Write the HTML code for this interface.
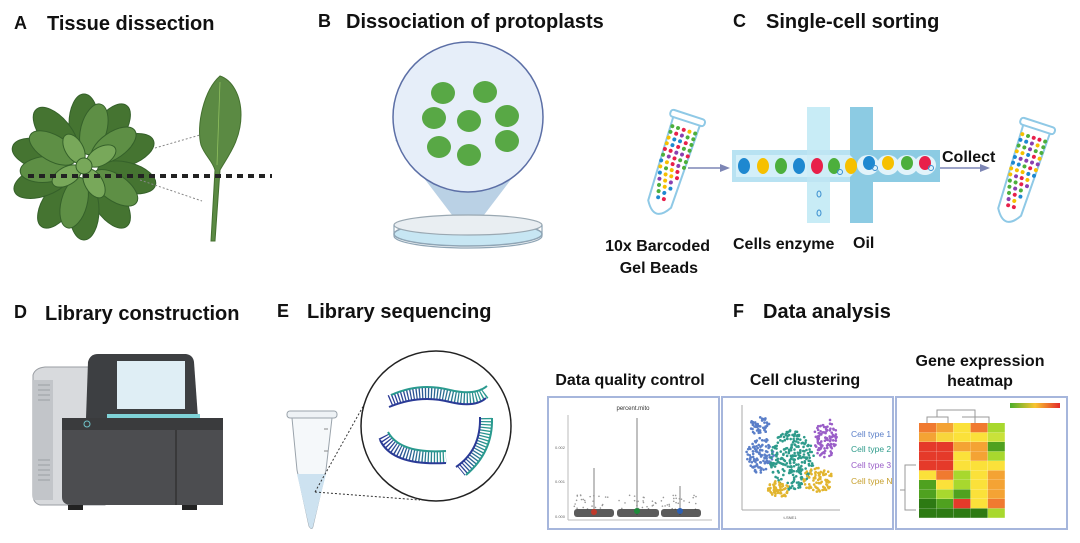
<!DOCTYPE html>
<html><head><meta charset="utf-8"><style>
body{margin:0;background:#fff}
svg{display:block}
text{font-family:"Liberation Sans",Arial,sans-serif}
.t{font-weight:bold;font-size:20px;fill:#111}
.l{font-weight:bold;font-size:16px;fill:#111}
</style></head><body>
<svg id="s" width="1080" height="543" viewBox="0 0 1080 543" xmlns="http://www.w3.org/2000/svg">
<text x="14" y="29" class="t" style="font-size:18px">A</text><text x="47" y="30" class="t">Tissue dissection</text>
<text x="318" y="27" class="t" style="font-size:18px">B</text><text x="346" y="28" class="t">Dissociation of protoplasts</text>
<text x="733" y="27" class="t" style="font-size:18px">C</text><text x="766" y="28" class="t">Single-cell sorting</text>
<text x="14" y="318" class="t" style="font-size:18px">D</text><text x="45" y="320" class="t">Library construction</text>
<text x="277" y="317" class="t" style="font-size:18px">E</text><text x="307" y="318" class="t">Library sequencing</text>
<text x="733" y="317" class="t" style="font-size:18px">F</text><text x="763" y="318" class="t">Data analysis</text>

<g fill="#457431" stroke="#35612a" stroke-width="1">
<g transform="translate(84,166)">
<ellipse rx="15" ry="30" transform="rotate(0) translate(0,-42)"/>
<ellipse rx="15" ry="30" transform="rotate(35) translate(0,-44)"/>
<ellipse rx="15" ry="30" transform="rotate(70) translate(0,-44)"/>
<ellipse rx="15" ry="30" transform="rotate(105) translate(0,-44)"/>
<ellipse rx="15" ry="30" transform="rotate(145) translate(0,-44)"/>
<ellipse rx="15" ry="30" transform="rotate(180) translate(0,-44)"/>
<ellipse rx="15" ry="30" transform="rotate(215) translate(0,-44)"/>
<ellipse rx="15" ry="30" transform="rotate(250) translate(0,-44)"/>
<ellipse rx="15" ry="30" transform="rotate(285) translate(0,-44)"/>
<ellipse rx="15" ry="30" transform="rotate(320) translate(0,-44)"/>
<g fill="#5e8f45"><ellipse rx="13" ry="26" transform="rotate(15) translate(0,-38)"/>
<ellipse rx="13" ry="26" transform="rotate(55) translate(0,-36)"/>
<ellipse rx="13" ry="26" transform="rotate(125) translate(0,-38)"/>
<ellipse rx="13" ry="26" transform="rotate(195) translate(0,-38)"/>
<ellipse rx="13" ry="26" transform="rotate(265) translate(0,-38)"/>
<ellipse rx="13" ry="26" transform="rotate(300) translate(0,-36)"/></g>
<g fill="#78a85a"><ellipse rx="9" ry="16" transform="rotate(60) translate(0,-20)"/>
<ellipse rx="9" ry="16" transform="rotate(150) translate(0,-20)"/>
<ellipse rx="9" ry="16" transform="rotate(240) translate(0,-20)"/>
<ellipse rx="9" ry="16" transform="rotate(330) translate(0,-20)"/>
<circle r="8"/></g>
</g></g>
<path d="M220 76 C204 90 196 125 201 145 C205 156 212 160 215 170 L211 241 L215 241 L220 170 C228 156 241 140 241 115 C241 95 232 80 220 76Z" fill="#5b8a43" stroke="#44702f"/>
<line x1="220" y1="82" x2="217" y2="165" stroke="#8fbf5f" stroke-width="0.8"/>
<line x1="155" y1="148" x2="200" y2="135" stroke="#888" stroke-dasharray="2,2"/>
<line x1="140" y1="180" x2="202" y2="201" stroke="#888" stroke-dasharray="2,2"/>
<line x1="28" y1="176" x2="272" y2="176" stroke="#222" stroke-width="4" stroke-dasharray="6,5"/>

<path d="M395 140 L468 236 L541 140Z" fill="#a9c5de" opacity="0.8"/>
<ellipse cx="468" cy="234" rx="74" ry="12" fill="#c7e6f3" stroke="#8fa5b5" stroke-width="1.5"/>
<ellipse cx="468" cy="225" rx="74" ry="10" fill="#e9eef2" stroke="#9aa8b2" stroke-width="1.2"/>
<path d="M394 225 L394 236 A74 12 0 0 0 542 236 L542 225" fill="none" stroke="#8fa5b5" stroke-width="1.2"/>
<circle cx="468" cy="117" r="75" fill="#e6eef9" stroke="#5c6fa6" stroke-width="1.5"/>
<g fill="#58a845"><ellipse cx="443" cy="93" rx="12" ry="11"/><ellipse cx="485" cy="92" rx="12" ry="11"/>
<ellipse cx="434" cy="118" rx="12" ry="11"/><ellipse cx="469" cy="121" rx="12" ry="11"/><ellipse cx="507" cy="116" rx="12" ry="11"/>
<ellipse cx="439" cy="147" rx="12" ry="11"/><ellipse cx="469" cy="155" rx="12" ry="11"/><ellipse cx="507" cy="141" rx="12" ry="11"/></g>

<g id="tube1" transform="translate(672,166) rotate(18)">
<path d="M-14 -48 L14 -48 L12 40 Q0 60 -12 40Z" fill="#fff" stroke="#8fc9e6" stroke-width="2"/>
<rect x="-18" y="-54" width="36" height="7" rx="3" fill="#fff" stroke="#8fc9e6" stroke-width="2"/>
</g>
<g id="tube2" transform="translate(1022,174) rotate(18)">
<path d="M-14 -48 L14 -48 L12 40 Q0 60 -12 40Z" fill="#fff" stroke="#8fc9e6" stroke-width="2"/>
<rect x="-18" y="-54" width="36" height="7" rx="3" fill="#fff" stroke="#8fc9e6" stroke-width="2"/>
</g>
<line x1="688" y1="168" x2="722" y2="168" stroke="#7d86b5" stroke-width="1.5"/><path d="M730 168 L720 164 L720 172Z" fill="#7d86b5"/>
<line x1="940" y1="168" x2="982" y2="168" stroke="#7d86b5" stroke-width="1.5"/><path d="M990 168 L980 164 L980 172Z" fill="#7d86b5"/>
<rect x="807" y="107" width="23" height="116" fill="#c8ecf6"/>
<rect x="850" y="107" width="23" height="116" fill="#8ccbe3"/>
<rect x="732" y="150" width="208" height="32" fill="#8ccbe3"/>
<rect x="732" y="150" width="118" height="32" fill="#b8e2f2"/>
<rect x="736" y="155" width="114" height="22" fill="#d3eff9"/>
<path d="M850 155 Q862 166 850 177Z" fill="#d3eff9"/>
<rect x="807" y="150" width="23" height="32" fill="#c8ecf6" opacity="0.4"/>
<g fill="#e2f3fa"><ellipse cx="868" cy="165" rx="11" ry="10"/><ellipse cx="888" cy="165" rx="11" ry="10"/><ellipse cx="907" cy="165" rx="11" ry="10"/><ellipse cx="925" cy="165" rx="11" ry="10"/></g>
<g><ellipse cx="744" cy="166" rx="6" ry="8" fill="#1e88d0"/><ellipse cx="763" cy="166" rx="6" ry="8" fill="#f6c000"/><ellipse cx="781" cy="166" rx="6" ry="8" fill="#4caf3c"/><ellipse cx="799" cy="166" rx="6" ry="8" fill="#1e88d0"/><ellipse cx="817" cy="166" rx="6" ry="8" fill="#e8204a"/><ellipse cx="834" cy="166" rx="6" ry="8" fill="#4caf3c"/><ellipse cx="851" cy="166" rx="6" ry="8" fill="#f6c000"/>
<ellipse cx="869" cy="163" rx="6" ry="7" fill="#1e88d0"/><ellipse cx="888" cy="163" rx="6" ry="7" fill="#f6c000"/><ellipse cx="907" cy="163" rx="6" ry="7" fill="#4caf3c"/><ellipse cx="925" cy="163" rx="6" ry="7" fill="#e8204a"/></g>
<g fill="none" stroke="#3b8fd0" stroke-width="1"><circle cx="840" cy="172" r="2.5"/><circle cx="875" cy="168" r="2.5"/><circle cx="931" cy="168" r="2.5"/><ellipse cx="819" cy="194" rx="2" ry="3"/><ellipse cx="819" cy="213" rx="2" ry="3"/></g>
<text x="942" y="162" class="l">Collect</text>
<text x="710" y="251" class="l" text-anchor="end">10x Barcoded</text>
<text x="698" y="273" class="l" text-anchor="end">Gel Beads</text>
<text x="733" y="249" class="l">Cells enzyme</text>
<text x="853" y="248" class="l">Oil</text>

<path d="M33 375 Q35 368 45 367 L105 367 L105 505 L40 505 Q33 503 33 495Z" fill="#d8dadd" stroke="#9a9ea3"/>
<rect x="33" y="380" width="20" height="120" fill="#c2c5c9"/>
<g stroke="#9a9ea3" stroke-width="1"><line x1="38" y1="385" x2="50" y2="385"/><line x1="38" y1="390" x2="50" y2="390"/><line x1="38" y1="395" x2="50" y2="395"/><line x1="38" y1="400" x2="50" y2="400"/><line x1="38" y1="460" x2="50" y2="460"/><line x1="38" y1="465" x2="50" y2="465"/><line x1="38" y1="470" x2="50" y2="470"/><line x1="38" y1="475" x2="50" y2="475"/><line x1="38" y1="480" x2="50" y2="480"/></g>
<path d="M88 362 Q90 354 98 354 L186 354 Q193 355 194 362 L198 418 L86 418Z" fill="#3d3f42"/>
<rect x="117" y="361" width="68" height="48" fill="#dfeef5"/>
<rect x="107" y="414" width="93" height="4" fill="#7fd3d8"/>
<path d="M62 425 Q62 418 70 418 L223 418 L223 505 L72 505 Q62 505 62 497Z" fill="#4c4d50"/>
<rect x="62" y="418" width="161" height="12" fill="#3a3b3d"/>
<line x1="176" y1="430" x2="176" y2="505" stroke="#333" stroke-width="1.5"/>
<circle cx="87" cy="424" r="3" fill="none" stroke="#6fc3c9"/>
<rect x="68" y="505" width="15" height="5" fill="#222"/><rect x="182" y="505" width="15" height="5" fill="#222"/>

<rect x="287" y="411" width="50" height="7" rx="3" fill="#eef2f5" stroke="#9aa3ab"/>
<path d="M292 418 L332 418 L326 470 L313 526 Q312 531 309 526 L297 470Z" fill="#f5f8fa" stroke="#9aa3ab"/>
<path d="M297 474 L326 474 L313 526 Q312 531 309 526Z" fill="#cde2f0"/>
<line x1="324" y1="429" x2="328" y2="429" stroke="#888"/><line x1="324" y1="451" x2="328" y2="451" stroke="#888"/>
<line x1="315" y1="492" x2="365" y2="403" stroke="#333" stroke-dasharray="2,2"/>
<line x1="315" y1="492" x2="420" y2="500" stroke="#333" stroke-dasharray="2,2"/>
<circle cx="436" cy="426" r="75" fill="#fff" stroke="#222" stroke-width="1.5"/>
<defs><linearGradient id="dg" x1="0" x2="1"><stop offset="0" stop-color="#2b3a96"/><stop offset="1" stop-color="#2a9a8f"/></linearGradient></defs>
<g fill="none" stroke="url(#dg)" stroke-width="12" stroke-dasharray="1.3,1.7">
<path d="M390 401 Q420 388 450 396 Q475 402 486 392"/>
<path d="M384 436 Q396 460 446 457"/>
<path d="M486 418 Q487 450 461 471"/></g>
<g fill="none" stroke="#2a3a96" stroke-width="2"><path d="M389 407 Q420 394 450 402 Q475 408 486 398"/><path d="M380 440 Q392 466 446 463"/><path d="M480 417 Q481 450 456 467"/></g>
<g fill="none" stroke="#2a9a8f" stroke-width="2"><path d="M391 395 Q420 382 450 390 Q475 396 487 386"/><path d="M388 432 Q400 454 446 451"/><path d="M492 418 Q493 452 466 475"/></g>

<text x="630" y="385" class="l" text-anchor="middle">Data quality control</text>
<text x="805" y="385" class="l" text-anchor="middle">Cell clustering</text>
<text x="980" y="366" class="l" text-anchor="middle">Gene expression</text>
<text x="980" y="386" class="l" text-anchor="middle">heatmap</text>
<rect x="548" y="397" width="171" height="132" fill="#fff" stroke="#a6b6dc" stroke-width="2"/>
<rect x="722" y="397" width="171" height="132" fill="#fff" stroke="#a6b6dc" stroke-width="2"/>
<rect x="896" y="397" width="171" height="132" fill="#fff" stroke="#a6b6dc" stroke-width="2"/>
<text x="633" y="410" font-size="6" text-anchor="middle" fill="#333">percent.mito</text>
<line x1="568" y1="415" x2="568" y2="520" stroke="#bbb"/><line x1="568" y1="520" x2="712" y2="520" stroke="#bbb"/>
<g font-size="4" fill="#666"><text x="555" y="449">0.002</text><text x="555" y="483">0.001</text><text x="555" y="518">0.000</text></g>
<g stroke="#aaa" stroke-width="1.5"><line x1="594" y1="468" x2="594" y2="515"/><line x1="637" y1="418" x2="637" y2="515"/><line x1="680" y1="486" x2="680" y2="515"/></g>
<g id="vdots"></g>
<g fill="#333" opacity="0.8"><rect x="574" y="509" width="40" height="8" rx="3"/><rect x="617" y="509" width="42" height="8" rx="3"/><rect x="661" y="509" width="40" height="8" rx="3"/></g>
<circle cx="594" cy="512" r="3" fill="#c0392b"/><circle cx="637" cy="511" r="3" fill="#1e8a3a"/><circle cx="680" cy="511" r="3" fill="#2c5fb3"/>
<line x1="742" y1="405" x2="742" y2="510" stroke="#aaa"/><line x1="742" y1="510" x2="840" y2="510" stroke="#aaa"/>
<text x="790" y="519" font-size="4" fill="#555" text-anchor="middle">t-SNE1</text>
<g id="tsne"></g>
<g font-size="8.5" font-weight="500"><text x="851" y="437" fill="#5b7fc8">Cell type 1</text><text x="851" y="452" fill="#2e9b8b">Cell type 2</text><text x="851" y="468" fill="#9a5ec8">Cell type 3</text><text x="851" y="484" fill="#c7a02e">Cell type N</text></g>
<path d="M927 423 L927 417 L948 417 L948 423 M937 417 L937 410 L975 410 L975 417 M962 417 L989 417 L989 423 M975 417 L975 423" fill="none" stroke="#999"/>
<path d="M916 465 L905 465 L905 510 L916 510 M905 490 L900 490" fill="none" stroke="#999"/>
<defs><linearGradient id="hg" x1="0" x2="1"><stop offset="0" stop-color="#4caf2c"/><stop offset="0.5" stop-color="#f8c531"/><stop offset="1" stop-color="#e32a2a"/></linearGradient></defs>
<rect x="1010" y="403" width="50" height="5" fill="url(#hg)"/>
<g id="heat"></g>
</svg>
<script>
var NS="http://www.w3.org/2000/svg";
function el(p,t,a){var e=document.createElementNS(NS,t);for(var k in a)e.setAttribute(k,a[k]);p.appendChild(e);return e;}
var seed=7;function r(){seed=(seed*9301+49297)%233280;return seed/233280;}
var cols=["#e8204a","#f6c000","#4caf3c","#1e88d0","#8a3fb0"];
[["tube1"],["tube2"]].forEach(function(t){var g=document.getElementById(t[0]);
for(var y=-38;y<38;y+=6){var w=Math.max(2,12-Math.max(0,y)*0.25);for(var x=-w;x<=w;x+=6){el(g,"circle",{cx:x,cy:y,r:2,fill:cols[Math.floor(r()*5)]});}}});
var vd=document.getElementById("vdots");
[594,637,680].forEach(function(cx){for(var i=0;i<25;i++)el(vd,"circle",{cx:cx-20+r()*40,cy:495+r()*15,r:0.8,fill:"#999"});});
var ts=document.getElementById("tsne");
[[760,426,10,9,"#5b7fc8",45],[760,455,14,18,"#5b7fc8",110],[792,460,22,30,"#2e9b8b",260],[825,438,12,20,"#9a5ec8",110],[778,490,11,9,"#e2b52e",60],[818,480,16,12,"#e2b52e",80]].forEach(function(c){
for(var i=0;i<c[5];i++){var a=r()*6.283,d=Math.sqrt(r());el(ts,"circle",{cx:c[0]+Math.cos(a)*d*c[2],cy:c[1]+Math.sin(a)*d*c[3],r:1.3,fill:c[4]});}});
var H={R:"#e53a2a",O:"#f07a30",o:"#f4a334",Y:"#fbe13a",y:"#f8d53c",l:"#c9e23a",L:"#a8d82e",G:"#4fa11f",D:"#2d7a13"};
var rows=["OoYOL","oyYYl","RRooG","RRYoL","RRYYY","YOLYo","GYLYo","GLGYo","DGRYO","DDDDL"];
var hg=document.getElementById("heat");
rows.forEach(function(s,j){for(var i=0;i<5;i++)el(hg,"rect",{x:919+i*17.2,y:423+j*9.5,width:17,height:9.3,fill:H[s[i]]});});
</script>
</body></html>
